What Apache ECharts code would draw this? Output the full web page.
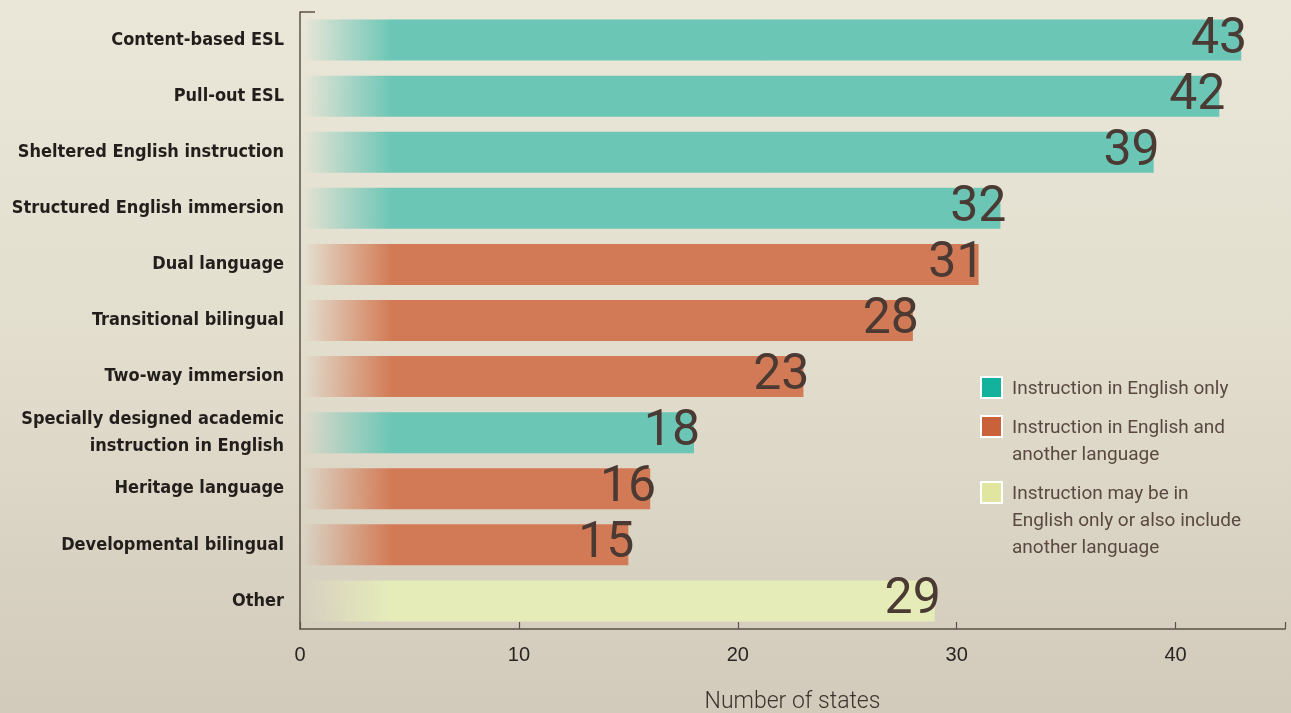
<!DOCTYPE html>
<html>
<head>
<meta charset="utf-8">
<script src="https://cdn.jsdelivr.net/npm/echarts@6/dist/echarts.min.js"></script>
<style>
html,body{margin:0;padding:0;}
body{background:linear-gradient(180deg,#eae7d9 0%,#e3dfcf 45%,#d2cabb 100%);}
#c{width:1291px;height:713px;}
</style>
</head>
<body>
<div id="c"></div>
<script>
const categories = [
  'Content-based ESL',
  'Pull-out ESL',
  'Sheltered English instruction',
  'Structured English immersion',
  'Dual language',
  'Transitional bilingual',
  'Two-way immersion',
  'Specially designed academic\ninstruction in English',
  'Heritage language',
  'Developmental bilingual',
  'Other'
];
const values = [43, 42, 39, 32, 31, 28, 23, 18, 16, 15, 29];
const groups = ['en', 'en', 'en', 'en', 'bi', 'bi', 'bi', 'en', 'bi', 'bi', 'mix'];
const xTickValues = [0, 10, 20, 30, 40];
const legendNames = [
  'Instruction in English only',
  'Instruction in English and\nanother language',
  'Instruction may be in\nEnglish only or also include\nanother language'
];
const legendGroups = ['en', 'bi', 'mix'];

const barRGB = { en: [107, 198, 182], bi: [210, 122, 85], mix: [229, 236, 184] };
const swatch = { en: '#13b29c', bi: '#c9613a', mix: '#e0e69f' };

function grad(g) {
  const c = barRGB[g];
  return new echarts.graphic.LinearGradient(304, 0, 392, 0, [
    { offset: 0, color: `rgba(${c[0]},${c[1]},${c[2]},0)` },
    { offset: 0.45, color: `rgba(${c[0]},${c[1]},${c[2]},0.45)` },
    { offset: 1, color: `rgb(${c[0]},${c[1]},${c[2]})` }
  ], true);
}

const chart = echarts.init(document.getElementById('c'), null, { renderer: 'canvas' });

const legendGraphics = [];
const legendTops = [376, 415, 481];
legendNames.forEach((n, i) => {
  legendGraphics.push({
    type: 'rect', left: 980, top: legendTops[i],
    shape: { width: 21, height: 21 },
    style: { fill: swatch[legendGroups[i]], stroke: '#ffffff', lineWidth: 2 }
  });
  legendGraphics.push({
    type: 'text', left: 1012, top: legendTops[i],
    style: {
      text: n, fill: '#5a4940',
      font: 'normal 19px Roboto', lineHeight: 27
    }
  });
});

chart.setOption({
  backgroundColor: 'transparent',
  animation: false,
  grid: { left: 300, top: 12, width: 985, height: 617, containLabel: false, outerBoundsMode: 'none' },
  xAxis: {
    type: 'value', min: 0, max: 45, interval: 10,
    position: 'bottom',
    axisLine: { show: true, lineStyle: { color: '#5e5048', width: 1.5 } },
    axisTick: { show: true, inside: true, length: 7, customValues: [0, 10, 20, 30, 40, 45], lineStyle: { color: '#5e5048', width: 1.2 } },
    axisLabel: { customValues: xTickValues, color: '#2a2522', fontSize: 20, fontFamily: 'Liberation Sans', margin: 16 },
    splitLine: { show: false },
    name: 'Number of states', nameLocation: 'middle', nameGap: 62,
    nameTextStyle: { color: '#3d332e', fontSize: 23, fontWeight: 300, fontFamily: 'Roboto' }
  },
  yAxis: {
    type: 'category', data: categories, inverse: true,
    axisLine: { show: true, lineStyle: { color: '#5e5048', width: 1.5 } },
    axisTick: { show: false },
    axisLabel: {
      color: '#221e1c', fontSize: 18, fontWeight: 'bold',
      fontFamily: '"DejaVu Sans Condensed", Roboto', margin: 16, lineHeight: 27, align: 'right'
    }
  },
  series: [{
    type: 'bar',
    barWidth: 41,
    data: values.map((v, i) => ({ value: v, itemStyle: { color: grad(groups[i]) } })),
    label: {
      show: true, position: 'insideRight', distance: 0, offset: [6, 0],
      color: '#4a3a33', fontSize: 50, fontWeight: 'normal', fontFamily: 'Roboto'
    }
  }],
  graphic: [
    { type: 'line', shape: { x1: 300, y1: 12, x2: 315, y2: 12 }, style: { stroke: '#5e5048', lineWidth: 1.5 } },
    ...legendGraphics
  ]
});
</script>
</body>
</html>
